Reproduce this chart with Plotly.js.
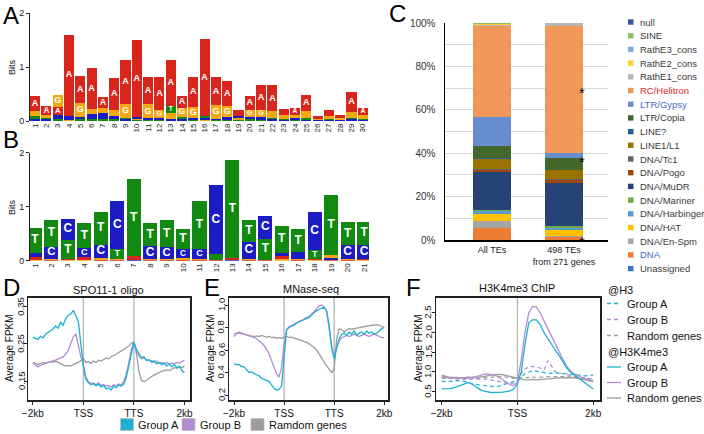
<!DOCTYPE html>
<html><head><meta charset="utf-8">
<script src="https://cdn.plot.ly/plotly-3.0.1.min.js"></script>
<style>html,body{margin:0;padding:0;background:#fff}#chart{width:704px;height:434px}</style>
</head><body><div id="chart"></div>
<script>
// ---------------- DATA ----------------
const nucleotides = ['A','C','G','T'];
// Panel A logo (positions 1..30), information in bits per nucleotide
const logoA_pos = [1,2,3,4,5,6,7,8,9,10,11,12,13,14,15,16,17,18,19,20,21,22,23,24,25,26,27,28,29,30];
const logoA_A = [0.28,0.16,0.15,1.5,0.5,0.75,0.2,0.6,0.82,1.42,0.5,0.62,0.85,0.22,0.55,1.42,0.52,0.48,0.1,0.27,0.45,0.48,0.12,0.13,0.3,0.06,0.1,0.06,0.38,0.13];
const logoA_C = [0.04,0.03,0.08,0.08,0.05,0.1,0.1,0.06,0.03,0.05,0.03,0.04,0.03,0.04,0.04,0.03,0.03,0.05,0.05,0.04,0.05,0.03,0.02,0.03,0.02,0.01,0.02,0.01,0.03,0.02];
const logoA_G = [0.09,0.05,0.22,0.01,0.25,0.1,0.1,0.1,0.25,0.02,0.26,0.14,0.12,0.17,0.2,0.02,0.25,0.2,0.03,0.13,0.14,0.12,0.07,0.07,0.12,0.02,0.06,0.03,0.1,0.08];
const logoA_T = [0.05,0.03,0.03,0.01,0.03,0.03,0.04,0.04,0.03,0.01,0.02,0.02,0.13,0.04,0.02,0.04,0.01,0.02,0.02,0.03,0.02,0.03,0.02,0.02,0.04,0.01,0.02,0.01,0.03,0.02];
// Panel B logo (positions 1..21)
const logoB_pos = [1,2,3,4,5,6,7,8,9,10,11,12,13,14,15,16,17,18,19,20,21];
const logoB_A = [0.05,0.02,0.02,0.04,0.02,0.02,0.06,0.01,0.01,0.02,0.02,0.01,0.03,0.01,0.01,0.06,0.02,0.02,0.01,0.01,0.03];
const logoB_C = [0.08,0.22,0.4,0.18,0.25,0.88,0.01,0.24,0.22,0.16,0.18,1.28,0.01,0.32,0.43,0.06,0.12,0.72,0.04,0.26,0.26];
const logoB_G = [0.02,0.02,0.01,0.02,0.03,0.02,0.01,0.02,0.02,0.03,0.02,0.01,0.01,0.02,0.01,0.03,0.02,0.01,0.06,0.02,0.01];
const logoB_T = [0.45,0.5,0.35,0.45,0.6,0.18,1.43,0.42,0.5,0.38,0.88,0.1,1.82,0.4,0.38,0.5,0.42,0.16,1.1,0.42,0.42];

// Panel C: TE class composition (%)
const teCategories = ['All TEs', '498 TEs<br>from 271 genes'];
const teClasses = ['Unassigned','DNA','DNA/En-Spm','DNA/HAT','DNA/Harbinger','DNA/Mariner','DNA/MuDR','DNA/Pogo','DNA/Tc1','LINE1/L1','LINE?','LTR/Copia','LTR/Gypsy','RC/Helitron','RathE1_cons','RathE2_cons','RathE3_cons','SINE','null'];
const teAll = [0.2,5.3,3.4,3.1,1.3,0.5,17.6,1.0,0.3,4.6,0.3,5.8,13.5,41.9,0.5,0.1,0.3,0.1,0.2];
const te498 = [0.1,1.4,0.4,2.6,1.2,0.8,19.9,1.2,0.5,4.0,0.2,5.4,2.3,58.8,1.2,0,0,0,0];
const teStarLevels = [70, 38, 1];

// Panels D/E: profiles along -2kb, TSS, TTS, 2kb (scaled gene body), sampled every 0.05 unit
const profileX_DE = Array.from({length: 61}, (_, i) => +(i * 0.05).toFixed(2));
const profileTicks_DE = ['\u22122kb', 'TSS', 'TTS', '2kb'];
const spo_A = [0.268,0.265,0.262,0.27,0.266,0.276,0.28,0.284,0.29,0.298,0.292,0.308,0.30,0.318,0.326,0.33,0.34,0.325,0.31,0.25,0.19,0.155,0.145,0.14,0.143,0.137,0.142,0.134,0.138,0.128,0.132,0.126,0.136,0.132,0.14,0.136,0.142,0.16,0.19,0.225,0.255,0.235,0.222,0.212,0.215,0.205,0.208,0.2,0.204,0.196,0.2,0.194,0.198,0.19,0.196,0.188,0.194,0.186,0.19,0.178,0.172];
const spo_B = [0.198,0.192,0.188,0.192,0.195,0.198,0.2,0.203,0.205,0.206,0.208,0.212,0.215,0.222,0.232,0.25,0.268,0.277,0.245,0.215,0.192,0.16,0.148,0.143,0.145,0.14,0.145,0.138,0.14,0.136,0.138,0.134,0.14,0.137,0.142,0.14,0.148,0.17,0.2,0.235,0.255,0.232,0.218,0.21,0.212,0.208,0.204,0.205,0.2,0.204,0.198,0.2,0.196,0.2,0.195,0.198,0.196,0.2,0.198,0.202,0.206];
const spo_R = [0.2,0.197,0.195,0.197,0.2,0.198,0.2,0.202,0.2,0.203,0.2,0.196,0.193,0.19,0.192,0.19,0.194,0.196,0.2,0.205,0.21,0.2,0.202,0.198,0.204,0.2,0.206,0.204,0.208,0.212,0.21,0.216,0.218,0.222,0.225,0.23,0.235,0.24,0.244,0.252,0.254,0.225,0.175,0.152,0.148,0.152,0.158,0.162,0.166,0.17,0.172,0.176,0.178,0.18,0.178,0.182,0.186,0.184,0.188,0.186,0.19];
const mn_A = [0.48,0.47,0.47,0.455,0.45,0.42,0.40,0.405,0.39,0.38,0.37,0.35,0.34,0.33,0.32,0.29,0.26,0.245,0.25,0.28,0.55,0.78,0.80,0.81,0.82,0.84,0.85,0.86,0.87,0.88,0.89,0.91,0.93,0.95,0.96,0.97,0.98,0.95,0.82,0.62,0.52,0.62,0.70,0.74,0.75,0.73,0.76,0.74,0.77,0.73,0.75,0.76,0.74,0.77,0.75,0.76,0.74,0.75,0.77,0.79,0.80];
const mn_B = [0.72,0.745,0.76,0.75,0.745,0.73,0.725,0.72,0.71,0.70,0.68,0.665,0.64,0.61,0.565,0.51,0.45,0.39,0.36,0.45,0.65,0.78,0.81,0.82,0.83,0.845,0.855,0.865,0.875,0.89,0.90,0.92,0.94,0.97,0.99,1.0,0.98,0.94,0.80,0.63,0.55,0.62,0.68,0.71,0.72,0.73,0.72,0.73,0.74,0.73,0.72,0.73,0.74,0.73,0.72,0.735,0.74,0.73,0.72,0.71,0.71];
const mn_R = [0.74,0.75,0.75,0.745,0.74,0.735,0.73,0.725,0.72,0.725,0.72,0.73,0.72,0.715,0.72,0.71,0.715,0.705,0.71,0.705,0.715,0.72,0.71,0.715,0.705,0.70,0.695,0.685,0.675,0.67,0.655,0.64,0.62,0.60,0.57,0.53,0.49,0.46,0.44,0.40,0.43,0.70,0.79,0.78,0.76,0.78,0.79,0.785,0.79,0.795,0.80,0.80,0.805,0.81,0.815,0.82,0.82,0.825,0.82,0.81,0.80];

// Panel F: -2kb .. TSS .. 2kb, sampled every 0.05 unit
const profileX_F = Array.from({length: 41}, (_, i) => +(i * 0.05).toFixed(2));
const profileTicks_F = ['\u22122kb', 'TSS', '2kb'];
const k4_A = [0.57,0.57,0.58,0.59,0.62,0.66,0.70,0.73,0.70,0.63,0.56,0.52,0.49,0.48,0.48,0.48,0.49,0.50,0.52,0.56,0.70,1.0,1.7,2.25,2.32,2.32,2.2,2.0,1.85,1.68,1.55,1.42,1.25,1.1,1.0,0.93,0.85,0.78,0.72,0.63,0.57];
const k4_B = [0.92,0.88,0.86,0.85,0.85,0.84,0.85,0.84,0.86,0.88,0.91,0.94,0.95,0.94,0.92,0.88,0.82,0.74,0.68,0.66,0.74,1.3,2.0,2.5,2.66,2.64,2.5,2.3,2.1,1.9,1.72,1.5,1.32,1.15,1.02,0.95,0.9,0.86,0.83,0.8,0.78];
const k4_R = [0.86,0.86,0.87,0.87,0.86,0.85,0.86,0.87,0.86,0.85,0.87,0.88,0.90,0.92,0.93,0.94,0.93,0.91,0.88,0.86,0.84,0.82,0.80,0.80,0.81,0.80,0.81,0.82,0.82,0.83,0.84,0.85,0.85,0.86,0.86,0.85,0.84,0.82,0.80,0.77,0.75];
const h3_A = [0.76,0.76,0.75,0.76,0.78,0.78,0.76,0.74,0.70,0.68,0.67,0.66,0.65,0.64,0.63,0.64,0.66,0.70,0.74,0.76,0.78,0.88,0.96,1.0,1.02,1.02,1.0,0.98,0.97,0.97,0.98,0.97,0.96,0.95,0.93,0.92,0.91,0.90,0.90,0.91,0.92];
const h3_B = [0.90,0.86,0.84,0.83,0.82,0.82,0.81,0.82,0.82,0.83,0.83,0.82,0.82,0.80,0.78,0.76,0.74,0.72,0.70,0.72,0.76,0.95,1.08,1.12,1.14,1.12,1.10,1.05,1.28,1.15,1.0,0.98,0.96,0.93,0.90,0.89,0.88,0.86,0.85,0.83,0.82];
const h3_R = [0.84,0.85,0.85,0.84,0.84,0.85,0.86,0.86,0.85,0.84,0.85,0.86,0.86,0.87,0.87,0.88,0.88,0.87,0.85,0.84,0.84,0.85,0.86,0.86,0.87,0.86,0.87,0.87,0.88,0.88,0.88,0.89,0.88,0.88,0.87,0.86,0.85,0.83,0.81,0.78,0.76];

// y tick values of the profile panels
const ticks_D = [0.15, 0.25, 0.35];
const ticks_E = [0.2, 0.4, 0.6, 0.8, 1.0];
const ticks_F = [0.5, 1.0, 1.5, 2.0, 2.5];

// ---------------- STYLE ----------------
const FONT = 'Liberation Sans, Arial, sans-serif';
const W = 704, H = 434;
const PX = p => p / W, PY = p => 1 - p / H;
const nucColors = {A:'#D9261C', C:'#1C1CC4', G:'#F5A70F', T:'#128A12'};
const teColors = ['#4472C4','#ED7D31','#A5A5A5','#FFC000','#5B9BD5','#70AD47','#264478','#9E480E','#636363','#997300','#255E91','#43682B','#698ED0','#F1975A','#B7B7B7','#FFCD33','#7CAFDD','#8CC168','#335AA1'];
const teLabelColor = {'RC/Helitron':'#E8262B','LTR/Gypsy':'#3F6FC6','DNA':'#3F6FC6'};
const cA = '#1DB0D2', cB = '#B48CD4', cR = '#9C9C9C';

const traces = [];
const shapes = [];
const annotations = [];

function ann(text, px, py, o) {
  annotations.push(Object.assign({text, x:PX(px), y:PY(py), xref:'paper', yref:'paper', showarrow:false,
    xanchor:'center', yanchor:'middle', font:{family:FONT, size:10, color:'#111'}}, o || {}));
}

// ---------- logos ----------
function addLogo(pos, h, xa, ya, pxPerBit, width, maxFont) {
  const layers = [[],[],[],[]];
  const tx=[], ty=[], tt=[], ts=[];
  pos.forEach((p, i) => {
    const items = nucleotides.map(n => ({n, h: h[n][i]})).sort((a,b) => a.h - b.h);
    let base = 0;
    items.forEach((it, k) => {
      layers[k].push(it);
      const hp = it.h * pxPerBit;
      if (hp >= 7) { tx.push(p); ty.push(base + it.h/2); tt.push(it.n); ts.push(Math.min(maxFont, hp*0.95)); }
      base += it.h;
    });
  });
  layers.forEach(layer => traces.push({type:'bar', x:pos, y:layer.map(d=>d.h), width:width,
    marker:{color:layer.map(d=>nucColors[d.n]), line:{width:0}}, xaxis:xa, yaxis:ya, hoverinfo:'skip', showlegend:false}));
  traces.push({type:'scatter', mode:'text', x:tx, y:ty, text:tt, textposition:'middle center',
    textfont:{family:FONT, color:'#fff', size:ts, weight:'bold'}, xaxis:xa, yaxis:ya, hoverinfo:'skip', showlegend:false});
}
addLogo(logoA_pos, {A:logoA_A, C:logoA_C, G:logoA_G, T:logoA_T}, 'x', 'y', 54, 0.9, 9);
addLogo(logoB_pos, {A:logoB_A, C:logoB_C, G:logoB_G, T:logoB_T}, 'x2', 'y2', 54, 0.86, 12);

// ---------- Panel C ----------
teClasses.forEach((c, i) => traces.push({type:'bar', name:c, x:teCategories, y:[teAll[i], te498[i]], width:0.52,
  marker:{color:teColors[i], line:{width:0}}, xaxis:'x3', yaxis:'y3', showlegend:false}));
teStarLevels.forEach(v => annotations.push({text:'*', x:PX(587), xref:'paper', y:v, yref:'y3', yshift:-4,
  showarrow:false, font:{family:FONT, size:15, color:'#111'}}));
// custom compact legend (top = last class)
teClasses.slice().reverse().forEach((c, j) => {
  const i = teClasses.length - 1 - j;
  const py = 22 + j * 13.7;
  shapes.push({type:'rect', xref:'paper', yref:'paper', x0:PX(628), x1:PX(633.5), y0:PY(py+2.7), y1:PY(py-2.7),
    fillcolor:teColors[i], line:{width:0}});
  ann(c, 638, py, {xanchor:'left', font:{family:FONT, size:9.5, color: teLabelColor[c] || '#3a3a3a'}});
});

// ---------- Panels D, E, F ----------
function addLine(x, y, color, xa, ya, dash) {
  traces.push({type:'scatter', mode:'lines', x, y, xaxis:xa, yaxis:ya, hoverinfo:'skip', showlegend:false,
    line:{color, width: dash ? 1.2 : 1.3, dash: dash || 'solid'}});
}
addLine(profileX_DE, spo_R, cR, 'x4', 'y4');
addLine(profileX_DE, spo_B, cB, 'x4', 'y4');
addLine(profileX_DE, spo_A, cA, 'x4', 'y4');
addLine(profileX_DE, mn_R, cR, 'x5', 'y5');
addLine(profileX_DE, mn_B, cB, 'x5', 'y5');
addLine(profileX_DE, mn_A, cA, 'x5', 'y5');
addLine(profileX_F, h3_R, cR, 'x6', 'y6', '4px,3px');
addLine(profileX_F, h3_B, cB, 'x6', 'y6', '4px,3px');
addLine(profileX_F, h3_A, cA, 'x6', 'y6', '4px,3px');
addLine(profileX_F, k4_R, cR, 'x6', 'y6');
addLine(profileX_F, k4_B, cB, 'x6', 'y6');
addLine(profileX_F, k4_A, cA, 'x6', 'y6');

[['x4','y4',[1,2]],['x5','y5',[1,2]],['x6','y6',[1]]].forEach(([xa,ya,vals]) => vals.forEach(v =>
  shapes.push({type:'line', xref:xa, yref:ya+' domain', x0:v, x1:v, y0:0, y1:1, layer:'below', line:{color:'#b5b5b5', width:1.3}})));

// rotated y tick labels (R style) placed beside each panel
[[ticks_D,'y4',21,2],[ticks_E,'y5',221,1],[ticks_F,'y6',428,1]].forEach(([vals, ya, px, dec]) => vals.forEach(v =>
  annotations.push({text:v.toFixed(dec), x:PX(px), xref:'paper', y:v, yref:ya, showarrow:false, textangle:-90,
    xanchor:'center', yanchor:'middle', font:{family:FONT, size:9.5, color:'#111'}})));

// bottom legend for D/E
[['Group A', cA, 120.5], ['Group B', cB, 182], ['Ramdom genes', cR, 251]].forEach(([t, c, x]) => {
  shapes.push({type:'rect', xref:'paper', yref:'paper', x0:PX(x), x1:PX(x+13), y0:PY(430.5), y1:PY(418.5), fillcolor:c, line:{color:'#bdbdbd', width:0.8}});
  ann(t, x+15.5, 424.5, {xanchor:'left', font:{family:FONT, size:11, color:'#111'}});
});

// F legend
ann('@H3', 606, 289.5, {xanchor:'left', font:{family:FONT, size:11, color:'#111'}});
ann('@H3K4me3', 606, 351.5, {xanchor:'left', font:{family:FONT, size:11, color:'#111'}});
[[303.5,cA,'Group A','4px,3px'],[319.5,cB,'Group B','4px,3px'],[335.5,cR,'Random genes','4px,3px'],
 [367,cA,'Group A','solid'],[382.5,cB,'Group B','solid'],[398,cR,'Random genes','solid']].forEach(([py,c,t,d]) => {
  shapes.push({type:'line', xref:'paper', yref:'paper', x0:PX(607), x1:PX(621), y0:PY(py), y1:PY(py), line:{color:c, width:1.3, dash:d}});
  ann(t, 625, py, {xanchor:'left', font:{family:FONT, size:11, color:'#111'}});
});

// panel letters, titles, axis titles
[['A',11,15],['B',11,140],['C',397,14],['D',11,287],['E',212,287],['F',413,287]].forEach(([t,x,y]) =>
  ann(t, x, y, {font:{family:FONT, size:24, color:'#000'}}));
ann('Bits', 12, 67, {textangle:-90, font:{family:FONT, size:9, color:'#111'}});
ann('Bits', 12, 207, {textangle:-90, font:{family:FONT, size:9, color:'#111'}});
ann('SPO11-1 oligo', 108, 290, {font:{family:FONT, size:11, color:'#111'}});
ann('MNase-seq', 311, 289, {font:{family:FONT, size:11, color:'#111'}});
ann('H3K4me3 ChIP', 517, 288, {font:{family:FONT, size:11, color:'#111'}});
ann('Average FPKM', 9, 348, {textangle:-90, font:{family:FONT, size:10, color:'#111'}});
ann('Average FPKM', 210, 348, {textangle:-90, font:{family:FONT, size:10, color:'#111'}});
ann('Average FPKM', 418, 348, {textangle:-90, font:{family:FONT, size:10, color:'#111'}});

// ---------------- LAYOUT ----------------
const logoX = (domain, range, vals) => ({domain, range, tickvals:vals, ticktext:vals.map(String), tickangle:-90,
  tickfont:{size:8, color:'#222'}, showgrid:false, zeroline:false, showline:false, ticks:''});
const logoY = (domain, anchor) => ({domain, range:[0,2], tickvals:[0,1,2], showgrid:false, zeroline:false,
  showline:true, linecolor:'#222', linewidth:1, ticks:'outside', ticklen:3, tickcolor:'#222', tickfont:{size:9, color:'#222'}, anchor});
const profX = (domain, range, vals, text, anchor) => ({domain, range, tickvals:vals, ticktext:text, ticks:'outside', ticklen:3,
  tickcolor:'#222', showline:true, mirror:true, linecolor:'#222', linewidth:1.5, showgrid:false, zeroline:false,
  tickfont:{size:10, color:'#111'}, anchor});
const profY = (domain, range, vals, anchor) => ({domain, range, tickvals:vals, showticklabels:false, ticks:'outside',
  ticklen:3, tickcolor:'#222', showline:true, mirror:true, linecolor:'#222', linewidth:1.5, showgrid:false, zeroline:false, anchor});
const rowDE = [PY(400), PY(297.7)];

const layout = {
  width:W, height:H, margin:{l:0,r:0,t:0,b:0}, paper_bgcolor:'#fff', plot_bgcolor:'rgba(0,0,0,0)',
  font:{family:FONT, size:9, color:'#222'}, barmode:'stack', showlegend:false,
  xaxis: Object.assign(logoX([PX(30), PX(369)], [0.55, 30.55], logoA_pos), {anchor:'y'}),
  yaxis: logoY([PY(121), PY(13)], 'x'),
  xaxis2: Object.assign(logoX([PX(30), PX(369)], [0.7, 21.3], logoB_pos), {anchor:'y2'}),
  yaxis2: logoY([PY(260.7), PY(152.7)], 'x2'),
  xaxis3: {domain:[PX(445), PX(608)], type:'category', range:[-0.653, 1.611], showline:true, linecolor:'#000', linewidth:2,
    ticks:'', tickfont:{size:9, color:'#222'}, showgrid:false, zeroline:false, anchor:'y3'},
  yaxis3: {domain:[PY(240), PY(23)], range:[0,100], tickvals:[0,10,20,30,40,50,60,70,80,90,100],
    ticktext:['0%','','20%','','40%','','60%','','80%','','100%'], showgrid:true, gridcolor:'#d9d9d9', gridwidth:1,
    showline:true, linecolor:'#000', linewidth:1.5, ticks:'', ticklabelstandoff:6, zeroline:false,
    tickfont:{size:10, color:'#333'}, anchor:'x3'},
  xaxis4: profX([PX(28.3), PX(190)], [-0.09, 3.11], [0,1,2,3], profileTicks_DE, 'y4'),
  yaxis4: profY(rowDE, [0.099, 0.374], ticks_D, 'x4'),
  xaxis5: profX([PX(229.3), PX(388)], [-0.094, 3.075], [0,1,2,3], profileTicks_DE, 'y5'),
  yaxis5: profY(rowDE, [0.156, 1.065], ticks_E, 'x5'),
  xaxis6: profX([PX(436), PX(600)], [-0.075, 2.09], [0,1,2], profileTicks_F, 'y6'),
  yaxis6: profY(rowDE, [0.29, 2.88], ticks_F, 'x6'),
  shapes, annotations
};

Plotly.newPlot('chart', traces, layout, {displayModeBar:false, staticPlot:true});
</script>
</body></html>
